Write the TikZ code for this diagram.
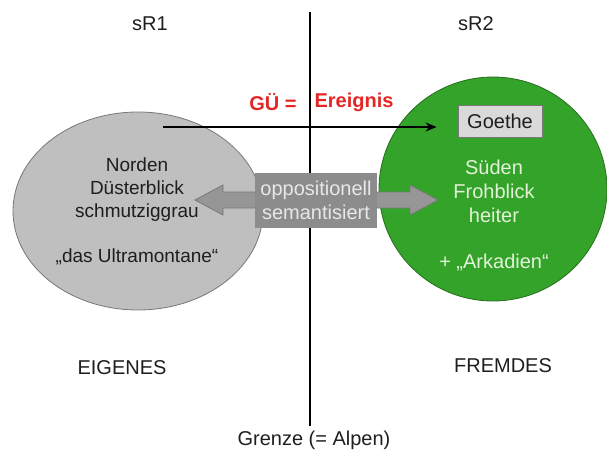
\documentclass[tikz,border=0pt]{standalone}
\usepackage{fontspec}
\setmainfont{Liberation Sans}
\usetikzlibrary{arrows.meta}
\definecolor{kreisgrau}{RGB}{191,191,191}
\definecolor{randgrau}{RGB}{120,120,120}
\definecolor{kreisgruen}{RGB}{51,163,41}
\definecolor{randgruen}{RGB}{40,110,32}
\definecolor{schriftgruen}{RGB}{228,242,218}
\definecolor{boxgrau}{RGB}{140,140,140}
\definecolor{pfeilgrau}{RGB}{150,150,150}
\definecolor{boxschrift}{RGB}{232,232,232}
\definecolor{goethegrau}{RGB}{217,217,217}
\definecolor{guerot}{RGB}{228,38,36}
\definecolor{schrift}{RGB}{30,30,30}
\begin{document}
\begin{tikzpicture}[
		x = 1pt, y = -1pt,
		every node/.style = {
			font = \fontsize{20}{24}\selectfont,
			text = schrift,
			align = center,
			inner sep = 0pt
		},
		raum/.style = {
			draw = rand#1,
			fill = kreis#1,
			line width = 0.8pt
		},
		innen/.style = {
			font = \fontsize{19}{23}\selectfont
		},
		gue/.style = {
			text = guerot,
			font = \fontsize{20}{24}\selectfont\bfseries
		}]
	\useasboundingbox (0, 0) rectangle (607, 452);
	\draw[raum = grau] (138, 211) ellipse (125pt and 99pt);
	\draw[raum = gruen] (493, 189) ellipse (114pt and 112pt);
	\coordinate (oben) at (310, 12);
	\coordinate (gustart) at (163, 127);
	\coordinate (pfeil) at (195, 200);
	\node (grenze) at (314, 440) {Grenze (= Alpen)};
	\draw[line width = 2.5pt, shorten <= 4pt] (oben |- grenze.north) -- (oben);
	\draw[draw = randgrau, fill = pfeilgrau, line width = 0.8pt, line join = miter] (pfeil) -- ++(28, -15) -- ++(0, 7) -- ++(187, 0) -- ++(0, -7) -- ++(28, 15) -- ++(-28, 15) -- ++(0, -7) -- ++(-187, 0) -- ++(0, 7) -- cycle;
	\node (oppo) at (316, 200) [fill = boxgrau, text = boxschrift, minimum width = 122pt, minimum height = 55pt] {oppositionell\\semantisiert};
	\node (goethe) at (500, 121) [fill = goethegrau, draw = randgrau, line width = 0.8pt, minimum width = 84pt, minimum height = 32pt] {Goethe};
	\draw[line width = 2.2pt, -{Stealth[length = 11pt, width = 9pt]}] (gustart) -- (gustart -| goethe.west) [shorten >= 21pt];
	\node (gu) at (273, 102) [gue] {GÜ =};
	\node (ereignis) at (354, 102) [gue] {Ereignis};
	\node (nord) at (137, 190) [innen] {Norden\\Düsterblick\\schmutziggrau};
	\node (ultra) at (137, 257) [innen] {„das Ultramontane“};
	\node (sued) at (494, 191) [text = schriftgruen] {Süden\\Frohblick\\heiter};
	\node (arkadien) at (494, 263) [text = schriftgruen] {+ „Arkadien“};
	\node (sr1) at (150, 24) {sR1};
	\node (sr2) at (476, 24) {sR2};
	\node (eigenes) at (122, 368) {EIGENES};
	\node (fremdes) at (503, 366) {FREMDES};
\end{tikzpicture}
\end{document}
